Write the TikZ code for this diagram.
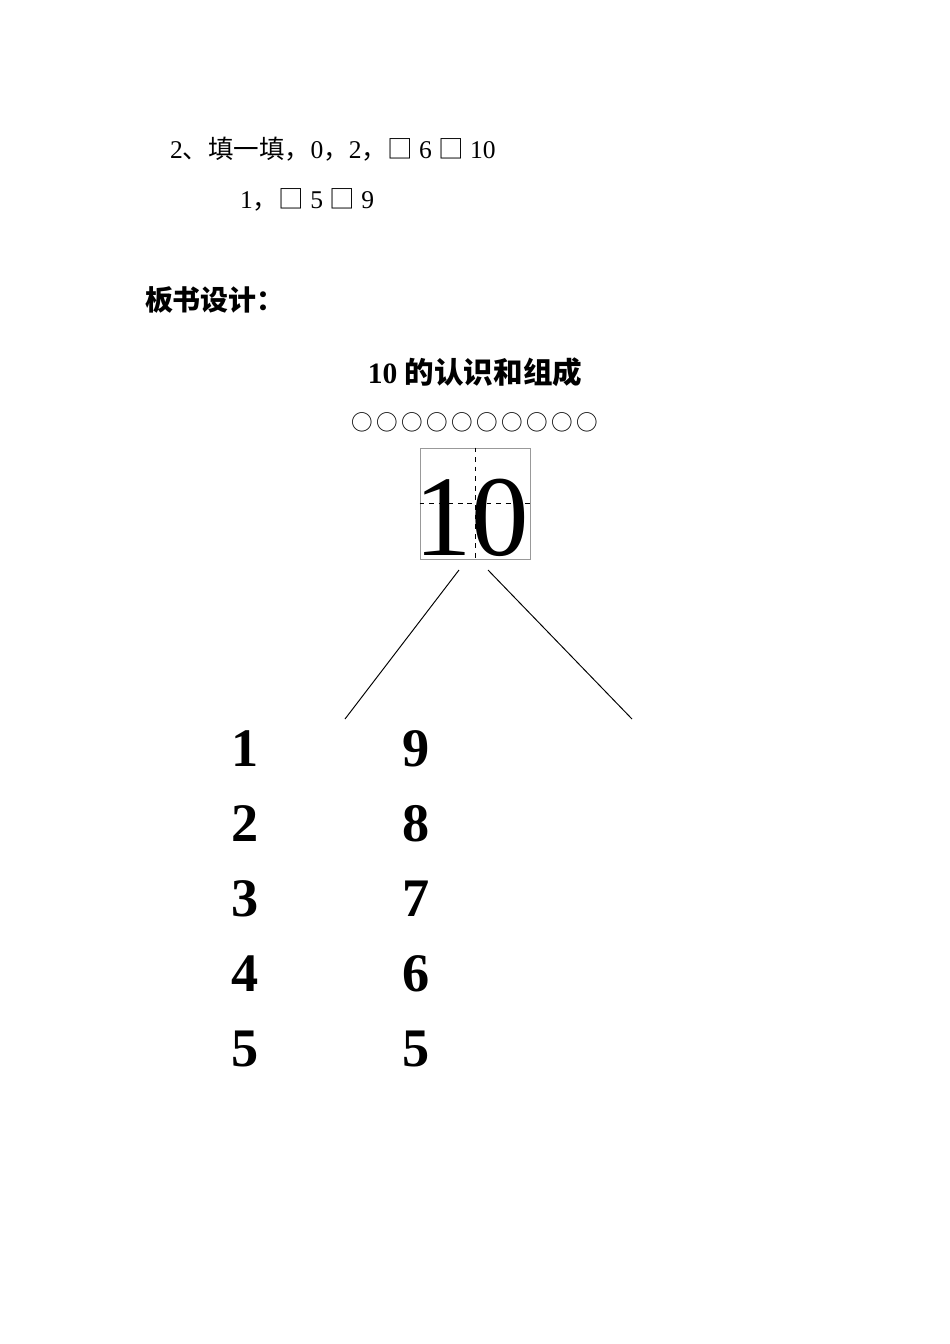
\documentclass[tikz,border=0pt]{standalone}
\usepackage{fontspec}
\setmainfont{Liberation Serif}
\newfontfamily\cjk{Noto Sans CJK SC}
\newcommand\ringbox{\makebox[15.66pt]{○}}
\begin{document}
\begin{tikzpicture}[x=0.6263pt,y=-0.6263pt,
  txt/.style={inner sep=0pt,outer sep=0pt,anchor=base west,font=\fontsize{16}{19}\selectfont},
  num/.style={inner sep=0pt,outer sep=0pt,anchor=base,font=\fontsize{34}{40}\selectfont\bfseries},
  big/.style={inner sep=0pt,outer sep=0pt,anchor=base,font=\fontsize{72}{80}\selectfont},
  grid/.style={draw=gray!80,line width=0.6pt},
  cross/.style={draw=black,dashed,line width=0.6pt},
  branch/.style={draw=black,line width=0.6pt}]
\useasboundingbox[fill=white] (0,0) rectangle (950,1344);
% exercise lines
\node[txt] (l1) at (170,158) {2{\cjk 、填一填，}0{\cjk ，}2{\cjk ，□} 6 {\cjk □} 10};
\node[txt] (l2) at (240,208) {1{\cjk ，□} 5 {\cjk □} 9};
% heading
\node[txt,font=\fontsize{17.5}{21}\selectfont\cjk\bfseries] (head) at (145,310) {板书设计：};
% title
\node[inner sep=0pt,anchor=base,font=\fontsize{18.5}{22}\selectfont\bfseries] (title) at (475,383) {10 {\cjk 的认识和组成}};
% circles
\node[inner sep=0pt,anchor=center,font=\fontsize{13.5}{16}\selectfont\cjk] (circles) at (475,422) {\ringbox\ringbox\ringbox\ringbox\ringbox\ringbox\ringbox\ringbox\ringbox\ringbox};
% grid box
\node[grid,minimum width=110*0.6263pt,minimum height=111*0.6263pt,inner sep=0pt] (box) at (475,503.5) {};
\draw[cross] (box.north) -- (box.south);
\draw[cross] (box.west) -- (box.east);
\node[big] (d1) at (443,555) {1};
\node[big] (d0) at (500,555) {0};
% branches
\coordinate (bl) at (459,570);
\coordinate (br) at (488,570);
\coordinate (el) at (345,719);
\coordinate (er) at (632,719);
\draw[branch] (bl) -- (el);
\draw[branch] (br) -- (er);
% number pairs
\node[num] (a1) at (245,766) {1};
\node[num] (b1) at (416,766) {9};
\node[num] (a2) at (245,841) {2};
\node[num] (b2) at (416,841) {8};
\node[num] (a3) at (245,916) {3};
\node[num] (b3) at (416,916) {7};
\node[num] (a4) at (245,991) {4};
\node[num] (b4) at (416,991) {6};
\node[num] (a5) at (245,1066) {5};
\node[num] (b5) at (416,1066) {5};
\end{tikzpicture}
\end{document}
